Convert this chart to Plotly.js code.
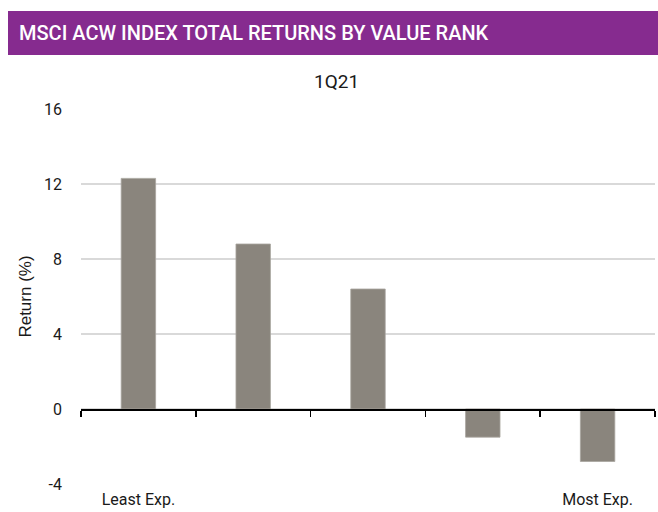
<!DOCTYPE html>
<html>
<head>
<meta charset="utf-8">
<script src="https://cdn.plot.ly/plotly-3.0.1.min.js"></script>
<style>html,body{margin:0;padding:0;background:#fff;}#chart{width:658px;height:512px;}</style>
</head>
<body>
<div id="chart"></div>
<script>
const ranks = [0, 1, 2, 3, 4];
const returns = [12.3, 8.8, 6.4, -1.5, -2.8];
const tickVals = [0, 4];
const tickLabels = ['Least Exp.', 'Most Exp.'];
const boundaries = [-0.5, 0.5, 1.5, 2.5, 3.5, 4.5];
const yTicks = [-4, 0, 4, 8, 12, 16];
const yTickLabels = ['-4', '0', '4', '8', '12', '16'];
const headerText = 'MSCI ACW INDEX TOTAL RETURNS BY VALUE RANK';
const subTitle = '1Q21';

const bars = {
  type: 'bar',
  x: ranks,
  y: returns,
  marker: {color: '#8A857D', line: {color: '#a8a49e', width: 0.8}},
  width: 0.3,
  hoverinfo: 'none'
};

// invisible helper trace so the zero-line axis (x2) is drawn
const zeroAxis = {
  type: 'scatter', mode: 'none',
  x: boundaries, y: boundaries.map(() => 0),
  xaxis: 'x2', yaxis: 'y', hoverinfo: 'none', showlegend: false
};

const font = 'Roboto, "Noto Sans", sans-serif';

const layout = {
  width: 658, height: 512,
  margin: {l: 81, r: 3, t: 109, b: 28},
  paper_bgcolor: '#ffffff', plot_bgcolor: '#ffffff',
  showlegend: false,
  font: {family: font, size: 16, color: '#1a1a1a'},
  title: {
    text: headerText,
    font: {family: font, size: 20, color: '#ffffff', weight: 500},
    xref: 'container', yref: 'container',
    x: 19/658, xanchor: 'left',
    y: 1 - 33/512, yanchor: 'middle'
  },
  xaxis: {
    range: [-0.5, 4.5],
    tickmode: 'array', tickvals: tickVals, ticktext: tickLabels,
    showgrid: false, zeroline: false, showline: false,
    ticks: '', ticklabelstandoff: 4,
    tickfont: {size: 16, color: '#1a1a1a'}
  },
  xaxis2: {
    overlaying: 'x', anchor: 'free', position: 0.2,
    range: [-0.5, 4.5],
    tickmode: 'array', tickvals: boundaries,
    showticklabels: false,
    ticks: 'outside', ticklen: 6, tickwidth: 1.5, tickcolor: '#000000',
    showline: true, linecolor: '#000000', linewidth: 1.5,
    showgrid: false, zeroline: false
  },
  yaxis: {
    range: [-4, 16],
    tickmode: 'array', tickvals: yTicks, ticktext: yTickLabels,
    showgrid: true, gridcolor: '#d9d9d9', gridwidth: 1.5,
    zeroline: false, showline: false, ticks: '',
    ticklabelstandoff: 18,
    tickfont: {size: 16, color: '#1a1a1a'},
    title: {text: 'Return (%)', font: {family: '"Liberation Sans", Arial, sans-serif', size: 17, color: '#1a1a1a'}, standoff: 8}
  },
  shapes: [{
    type: 'rect', xref: 'paper', yref: 'paper',
    x0: (8-81)/574, x1: (658-81)/574,
    y0: 1 + (109-55)/375, y1: 1 + (109-11)/375,
    fillcolor: '#862B8F', line: {width: 0}, layer: 'below'
  }],
  annotations: [{
    text: subTitle, xref: 'paper', yref: 'paper',
    x: (336-81)/574, y: 1 + (109-81)/375,
    xanchor: 'center', yanchor: 'middle', showarrow: false,
    font: {size: 19, color: '#1a1a1a'}
  }]
};

Plotly.newPlot('chart', [bars, zeroAxis], layout, {staticPlot: true, displayModeBar: false});
</script>
</body>
</html>
